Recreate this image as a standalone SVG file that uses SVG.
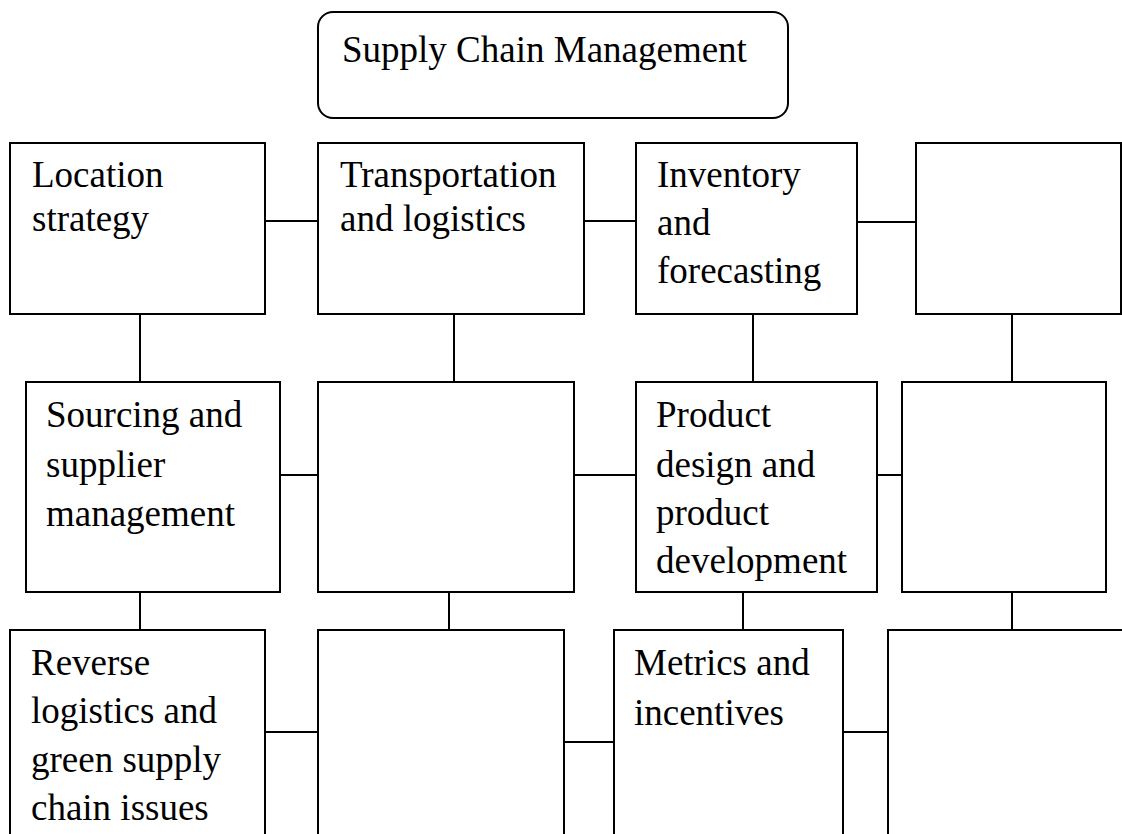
<svg xmlns="http://www.w3.org/2000/svg" width="1122" height="834" viewBox="0 0 1122 834">
<style>
.box{fill:#fff;stroke:#000;stroke-width:2}
.ln{stroke:#000;stroke-width:2;fill:none}
text{font-family:"Liberation Serif","Times New Roman",serif;font-size:37px;fill:#000}
</style>
<rect width="1122" height="834" fill="#fff"/>
<g id="connectors">
<line class="ln" x1="265" y1="221" x2="318" y2="221"/>
<line class="ln" x1="584" y1="221" x2="636" y2="221"/>
<line class="ln" x1="857" y1="222" x2="916" y2="222"/>
<line class="ln" x1="140" y1="314" x2="140" y2="382"/>
<line class="ln" x1="454" y1="314" x2="454" y2="382"/>
<line class="ln" x1="753" y1="314" x2="753" y2="382"/>
<line class="ln" x1="1012" y1="314" x2="1012" y2="382"/>
<line class="ln" x1="280" y1="475" x2="318" y2="475"/>
<line class="ln" x1="574" y1="475" x2="636" y2="475"/>
<line class="ln" x1="877" y1="475" x2="902" y2="475"/>
<line class="ln" x1="140" y1="592" x2="140" y2="630"/>
<line class="ln" x1="449" y1="592" x2="449" y2="630"/>
<line class="ln" x1="743" y1="592" x2="743" y2="630"/>
<line class="ln" x1="1012" y1="592" x2="1012" y2="630"/>
<line class="ln" x1="265" y1="732" x2="318" y2="732"/>
<line class="ln" x1="564" y1="742" x2="614" y2="742"/>
<line class="ln" x1="843" y1="732" x2="888" y2="732"/>
</g>
<g id="scm">
<rect class="box" x="318" y="12" width="470" height="106" rx="15" ry="15"/>
<text x="342" y="62">Supply Chain Management</text>
</g>
<g id="location">
<rect class="box" x="10" y="143" width="255" height="171"/>
<text x="32" y="187">Location</text>
<text x="32" y="231">strategy</text>
</g>
<g id="transportation">
<rect class="box" x="318" y="143" width="266" height="171"/>
<text x="340" y="187">Transportation</text>
<text x="340" y="231">and logistics</text>
</g>
<g id="inventory">
<rect class="box" x="636" y="143" width="221" height="171"/>
<text x="657" y="187">Inventory</text>
<text x="657" y="235">and</text>
<text x="657" y="283">forecasting</text>
</g>
<g id="r1c4">
<rect class="box" x="916" y="143" width="205" height="171"/>
</g>
<g id="sourcing">
<rect class="box" x="26" y="382" width="254" height="210"/>
<text x="46" y="427">Sourcing and</text>
<text x="46" y="477">supplier</text>
<text x="46" y="526">management</text>
</g>
<g id="r2c2">
<rect class="box" x="318" y="382" width="256" height="210"/>
</g>
<g id="product">
<rect class="box" x="636" y="382" width="241" height="210"/>
<text x="656" y="427">Product</text>
<text x="656" y="477">design and</text>
<text x="656" y="525">product</text>
<text x="656" y="573">development</text>
</g>
<g id="r2c4">
<rect class="box" x="902" y="382" width="204" height="210"/>
</g>
<g id="reverse">
<rect class="box" x="10" y="630" width="255" height="230"/>
<text x="31" y="675">Reverse</text>
<text x="31" y="723">logistics and</text>
<text x="31" y="772">green supply</text>
<text x="31" y="820">chain issues</text>
</g>
<g id="r3c2">
<rect class="box" x="318" y="630" width="246" height="230"/>
</g>
<g id="metrics">
<rect class="box" x="614" y="630" width="229" height="230"/>
<text x="634" y="675">Metrics and</text>
<text x="634" y="725">incentives</text>
</g>
<g id="r3c4">
<rect class="box" x="888" y="630" width="260" height="230"/>
</g>
</svg>
